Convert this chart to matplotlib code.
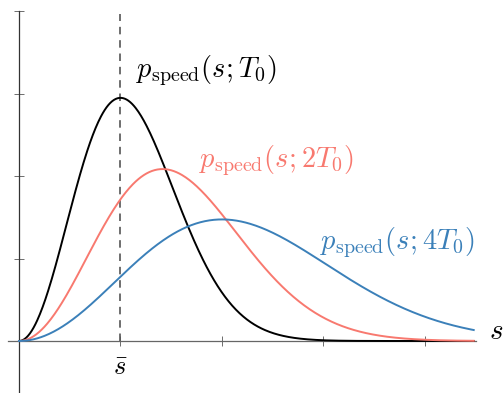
import matplotlib
matplotlib.use("Agg")
import matplotlib.pyplot as plt
import numpy as np

plt.rcParams["mathtext.fontset"] = "cm"

# temperatures relative to T0, and the curve styling
temps = [1.0, 2.0, 4.0]
labels = [r"$p_{\mathrm{speed}}(s;T_0)$", r"$p_{\mathrm{speed}}(s;2T_0)$", r"$p_{\mathrm{speed}}(s;4T_0)$"]
colors = ["#000000", "#f8796f", "#3b80b9"]
label_pos = [(1.15, 3.28), (1.77, 2.19), (2.97, 1.19)]

s_bar = 1.0          # most probable speed at T0
s_max = 4.48
y_scale = 3.55       # density -> axis units
x_ticks = [1, 2, 3, 4]
y_ticks = [1, 2, 3, 4]


def p_speed(s, t):
    # Maxwell-Boltzmann speed density, mode at sqrt(t)
    return np.sqrt(2 / np.pi) * 2 ** 1.5 * s ** 2 / t ** 1.5 * np.exp(-s ** 2 / t)


fig = plt.figure(figsize=(5.03, 3.93), dpi=100)
ax = fig.add_axes([0, 0, 1, 1])
ax.set_xlim(-19 / 101.5, (503 - 19) / 101.5)
ax.set_ylim(-(393 - 341) / 82.5, 341 / 82.5)

s = np.linspace(0, s_max, 500)
for t, lab, col, (lx, ly) in zip(temps, labels, colors, label_pos):
    ax.plot(s, y_scale * p_speed(s, t), color=col, linewidth=1.4, zorder=3)
    ax.text(lx, ly, lab, color=col, fontsize=20.5, ha="left", va="center")

ax.plot([s_bar, s_bar], [0, 3.96], color="#555555", linewidth=1.2,
        linestyle=(0, (4.5, 3.5)), zorder=2)

for name in ["top", "right"]:
    ax.spines[name].set_visible(False)
ax.spines["left"].set_position(("data", 0))
ax.spines["bottom"].set_position(("data", 0))
ax.spines["left"].set_bounds(-0.62, 4.0)
ax.spines["bottom"].set_bounds(-0.11, 4.5)
ax.spines["left"].set_color("#333333")
ax.spines["bottom"].set_color("#666666")
ax.spines["left"].set_linewidth(0.9)
ax.spines["bottom"].set_linewidth(0.9)

ax.set_xticks(x_ticks)
ax.set_yticks(y_ticks)
ax.set_xticklabels([])
ax.set_yticklabels([])
ax.tick_params(axis="both", direction="inout", length=7, width=0.6, color="#555555")

ax.text(s_bar, -0.33, r"$\bar{s}$", fontsize=19, ha="center", va="center")
ax.text(4.7, 0.12, r"$s$", fontsize=21, ha="center", va="center")

fig.savefig("out.png", dpi=100)
